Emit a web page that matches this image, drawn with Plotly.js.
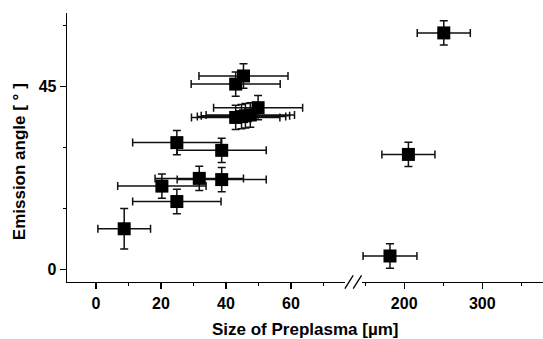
<!DOCTYPE html>
<html>
<head>
<meta charset="utf-8">
<script src="https://cdn.plot.ly/plotly-3.0.1.min.js"></script>
<style>html,body{margin:0;padding:0;background:#fff;}#chart{width:543px;height:339px;}</style>
</head>
<body>
<div id="chart"></div>
<script>
// Left (0-70 µm) segment
const sizeLeft = [8.7, 20.3, 24.9, 31.8, 38.7, 24.9, 38.7, 43.0, 44.8, 46.0, 47.5, 49.9, 43.0, 45.4];
const angleLeft = [10.0, 20.5, 16.7, 22.4, 22.1, 31.2, 29.3, 37.4, 37.6, 37.8, 38.0, 39.8, 45.6, 47.6];
const sizeErrLeft = [8.1, 13.6, 13.6, 13.6, 13.7, 13.6, 13.7, 13.6, 13.6, 13.6, 13.6, 13.7, 13.7, 13.7];
const angleErrLeft = [5, 3, 3, 3, 3, 3, 3, 3, 3, 3, 3, 3, 3, 3];
// Right (after break) segment
const sizeRight = [181.8, 205.4, 250.7];
const angleRight = [3.3, 28.3, 58.2];
const sizeErrRight = [34.5, 34, 34];
const angleErrRight = [3, 3, 3];

const xTitle = "Size of Preplasma [µm]";
const yTitle = "Emission angle [ ° ]";

const fontFam = "Liberation Sans, Arial, Helvetica, sans-serif";
const ebStyle = {thickness: 1.5, width: 4, color: '#111'};
const mk = {symbol: 'square', size: 13, color: '#000'};

const traces = [
  {x: sizeLeft, y: angleLeft, type: 'scatter', mode: 'markers', marker: mk,
   error_x: Object.assign({type: 'data', array: sizeErrLeft, visible: true}, ebStyle),
   error_y: Object.assign({type: 'data', array: angleErrLeft, visible: true}, ebStyle),
   xaxis: 'x', yaxis: 'y', showlegend: false, hoverinfo: 'none'},
  {x: sizeRight, y: angleRight, type: 'scatter', mode: 'markers', marker: mk,
   error_x: Object.assign({type: 'data', array: sizeErrRight, visible: true}, ebStyle),
   error_y: Object.assign({type: 'data', array: angleErrRight, visible: true}, ebStyle),
   xaxis: 'x2', yaxis: 'y', showlegend: false, hoverinfo: 'none'}
];

const L = 67.3, R = 543, T = 13.3, B = 281.7;
const W = R - L, H = B - T;
const px = v => (v - L) / W;
const py = v => (B - v) / H;

const tickFont = {family: fontFam, size: 16, color: '#000', weight: 'bold'};
const axBase = {
  showgrid: false, zeroline: false, showline: true, linecolor: '#000', linewidth: 1.3,
  ticks: 'outside', ticklen: 6, tickwidth: 1.2, tickcolor: '#000', tickfont: tickFont
};

const layout = {
  width: 543, height: 339,
  margin: {l: L, r: 543 - R, t: T, b: 339 - B, pad: 0},
  paper_bgcolor: '#fff', plot_bgcolor: '#fff',
  xaxis: Object.assign({}, axBase, {
    domain: [0, px(345)], range: [-8.9, 76.6], tick0: 0, dtick: 20, anchor: 'y',
    minor: {dtick: 10, tick0: 0, ticks: 'outside', ticklen: 3, tickwidth: 1.2, tickcolor: '#000', showgrid: false}
  }),
  xaxis2: Object.assign({}, axBase, {
    domain: [px(362), 1], range: [145.8, 377.8], tick0: 0, dtick: 100, anchor: 'y',
    minor: {dtick: 50, tick0: 0, ticks: 'outside', ticklen: 3, tickwidth: 1.2, tickcolor: '#000', showgrid: false}
  }),
  yaxis: Object.assign({}, axBase, {
    range: [-3.1, 63.1], tick0: 0, dtick: 45,
    minor: {dtick: 15, tick0: 0, ticks: 'outside', ticklen: 3, tickwidth: 1.2, tickcolor: '#000', showgrid: false}
  }),
  shapes: [
    {type: 'line', xref: 'paper', yref: 'paper', x0: px(345), y0: py(288.3), x1: px(353.3), y1: py(275), line: {color: '#000', width: 1.3}},
    {type: 'line', xref: 'paper', yref: 'paper', x0: px(353.3), y0: py(288.3), x1: px(361.7), y1: py(275), line: {color: '#000', width: 1.3}}
  ],
  annotations: [
    {text: xTitle, xref: 'paper', yref: 'paper', x: px(305), y: py(329), xanchor: 'center', yanchor: 'middle',
     showarrow: false, font: {family: fontFam, size: 17, color: '#000', weight: 'bold'}},
    {text: yTitle, xref: 'paper', yref: 'paper', x: px(20), y: py(161.5), xanchor: 'center', yanchor: 'middle',
     textangle: -90, showarrow: false, font: {family: fontFam, size: 17, color: '#000', weight: 'bold'}}
  ]
};

Plotly.newPlot('chart', traces, layout, {staticPlot: true, displayModeBar: false});
</script>
</body>
</html>
